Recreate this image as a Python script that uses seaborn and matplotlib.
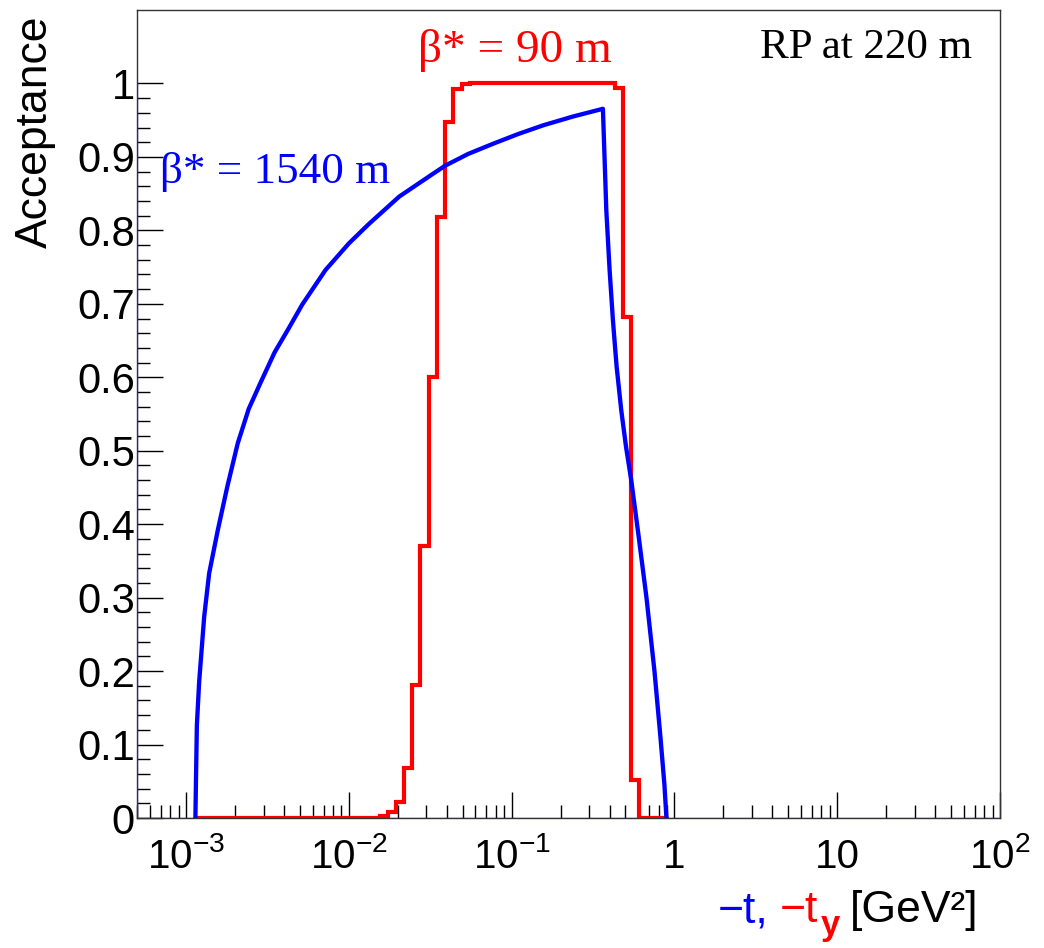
import numpy as np
import pandas as pd
import seaborn as sns
import matplotlib
matplotlib.use('Agg')
import matplotlib.pyplot as plt
from matplotlib.ticker import FixedLocator, LogLocator, NullFormatter

# red histogram, beta* = 90 m : bin edges in -t_y [GeV^2] and acceptance per bin
red_edges = [0.00115, 0.0156, 0.0175, 0.0196, 0.0219, 0.0245, 0.0275, 0.0309, 0.0348,
             0.0391, 0.0439, 0.0494, 0.0556, 0.430, 0.482, 0.542, 0.607, 0.906]
red_acc = [0.0, 0.003, 0.0085, 0.022, 0.068, 0.181, 0.37, 0.60, 0.818,
           0.947, 0.992, 0.9986, 1.0, 0.994, 0.682, 0.052, 0.0]

# blue curve, beta* = 1540 m : -t [GeV^2] and acceptance
blue_t = [0.001142, 0.001153, 0.001166, 0.001204, 0.001293, 0.001387, 0.001568, 0.001793,
          0.002078, 0.002428, 0.002875, 0.003503, 0.004207, 0.005176, 0.007190, 0.009986,
          0.01318, 0.02041, 0.03237, 0.03905, 0.05401, 0.07715, 0.1093, 0.1562, 0.2384,
          0.3638, 0.3818, 0.3999, 0.4190, 0.4414, 0.4716, 0.5047, 0.5430, 0.6018, 0.6737,
          0.7543, 0.8209, 0.8685, 0.8934]
blue_acc = [0.0, 0.06, 0.126, 0.185, 0.274, 0.333, 0.392, 0.451,
            0.510, 0.557, 0.593, 0.634, 0.664, 0.699, 0.746, 0.782,
            0.808, 0.846, 0.876, 0.888, 0.904, 0.918, 0.931, 0.943, 0.955,
            0.9655, 0.827, 0.746, 0.678, 0.615, 0.555, 0.505, 0.46, 0.385, 0.30,
            0.20, 0.11, 0.045, 0.0]

# thin blue outline of the graph (left edge and zero line)
blue_outline_t = [5e-4, 5e-4, 100]
blue_outline_acc = [1.0, 0.0, 0.0]

x_ticks = [1e-3, 1e-2, 1e-1, 1, 10, 100]
x_labels = [r'$\mathregular{10^{-3}}$', r'$\mathregular{10^{-2}}$', r'$\mathregular{10^{-1}}$',
            '1', '10', r'$\mathregular{10^{2}}$']
y_ticks = [0, 0.1, 0.2, 0.3, 0.4, 0.5, 0.6, 0.7, 0.8, 0.9, 1.0]
y_labels = ['0', '0.1', '0.2', '0.3', '0.4', '0.5', '0.6', '0.7', '0.8', '0.9', '1']

sns.set_theme(style='white')
plt.rcParams['font.family'] = ['Liberation Sans', 'DejaVu Sans']
plt.rcParams['mathtext.default'] = 'regular'

W, H = 1044, 948
fig = plt.figure(figsize=(W / 100, H / 100), dpi=100)
ax = fig.add_axes([137 / W, 1 - 818 / H, 863 / W, 808 / H])

red_df = pd.DataFrame({'t': red_edges, 'acc': red_acc + [red_acc[-1]]})
blue_df = pd.DataFrame({'t': blue_t, 'acc': blue_acc})
outline_df = pd.DataFrame({'t': blue_outline_t, 'acc': blue_outline_acc})

sns.lineplot(data=outline_df, x='t', y='acc', sort=False, estimator=None,
             color='#0000ff', linewidth=0.9, ax=ax, zorder=1)
sns.lineplot(data=red_df, x='t', y='acc', sort=False, estimator=None,
             color='#ff0000', linewidth=3.0, drawstyle='steps-post',
             solid_joinstyle='miter', ax=ax, zorder=2)
sns.lineplot(data=blue_df, x='t', y='acc', sort=False, estimator=None,
             color='#0000ff', linewidth=3.1, ax=ax, zorder=3)

ax.set_xscale('log')
ax.set_xlim(5e-4, 100)
ax.set_ylim(0, 1.1)
ax.set_xlabel('')
ax.set_ylabel('')

ax.xaxis.set_major_locator(FixedLocator(x_ticks))
ax.set_xticklabels(x_labels)
ax.xaxis.set_minor_locator(LogLocator(base=10, subs=np.arange(2, 10), numticks=20))
ax.xaxis.set_minor_formatter(NullFormatter())
ax.yaxis.set_major_locator(FixedLocator(y_ticks))
ax.set_yticklabels(y_labels)
ax.yaxis.set_minor_locator(FixedLocator(np.arange(0, 1.001, 0.02)))

ax.tick_params(which='both', direction='in', bottom=True, left=True, top=False, right=False,
               color='black', width=1.0, labelcolor='black')
ax.tick_params(which='major', length=18.5)
ax.tick_params(which='minor', length=9.5)
ax.tick_params(axis='y', pad=1.5, labelsize=30)
ax.tick_params(axis='x', pad=36, labelsize=29)
for lab in ax.get_xticklabels():
    lab.set_verticalalignment('baseline')

for sp in ax.spines.values():
    sp.set_color('#333333')
    sp.set_linewidth(1.0)

# annotations
ax.text(0.438, 0.950, 'β* = 90 m', transform=ax.transAxes, color='#ff0000',
        fontsize=34, family='Liberation Serif', ha='center', va='center')
ax.text(0.9676, 0.953, 'RP at 220 m', transform=ax.transAxes, color='black',
        fontsize=31, family='Liberation Serif', ha='right', va='center')
ax.text(0.0267, 0.800, 'β* = 1540 m', transform=ax.transAxes, color='#0000ff',
        fontsize=32.5, family='Liberation Serif', ha='left', va='center')

# axis titles
fig.text(35 / W, 1 - 132 / H, 'Acceptance', rotation=90, fontsize=32,
         ha='center', va='center', color='black')
base_y = 1 - 922 / H
fig.text(718 / W, base_y, '\u2212t,', color='#0000ff', fontsize=32, va='baseline', ha='left')
fig.text(780 / W, base_y, '\u2212t', color='#ff0000', fontsize=32, va='baseline', ha='left')
fig.text(821 / W, 1 - 935 / H, 'y', color='#ff0000', fontsize=25, fontweight='bold',
         va='baseline', ha='left')
fig.text(850 / W, base_y, '[GeV\u00b2]', color='black', fontsize=32, va='baseline', ha='left')

fig.savefig('out.png', dpi=100)
